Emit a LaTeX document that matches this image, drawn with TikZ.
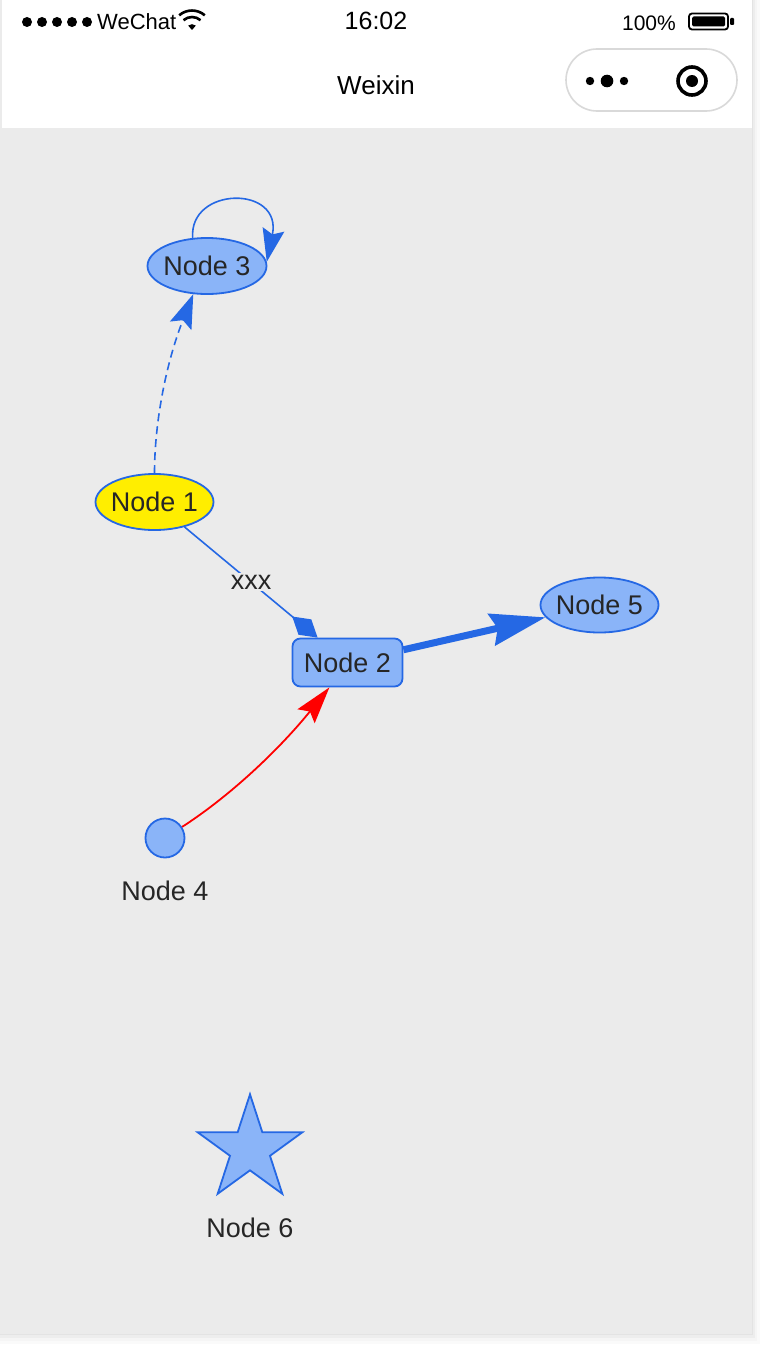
\documentclass[tikz,border=0pt]{standalone}
\usepackage{fontspec}
\setmainfont{Liberation Sans}
\usetikzlibrary{shapes.geometric,arrows.meta,calc}
\definecolor{canvas}{HTML}{EBEBEB}
\definecolor{nodefill}{RGB}{138,180,248}
\definecolor{edgeblue}{RGB}{37,104,228}
\definecolor{nodeyellow}{RGB}{255,238,0}
\definecolor{txt}{HTML}{262626}
\definecolor{capsuleline}{HTML}{D9D9D9}
\definecolor{edgered}{RGB}{255,0,0}
\begin{document}
\begin{tikzpicture}[x=1pt,y=-1pt,
  gnode/.style={draw=edgeblue, fill=nodefill, line width=1.8pt, inner sep=0pt,
    text=txt, font=\fontsize{27}{32}\selectfont},
  glabel/.style={text=txt, inner sep=0pt, font=\fontsize{27}{32}\selectfont},
  bluelink/.style={draw=edgeblue, line width=1.6pt},
  bar/.style={text=black, inner sep=0pt}]
\useasboundingbox (0,0) rectangle (762,1346);
% page, shadow and frame
\fill[white] (0,0) rectangle (762,1346);
\fill[black!2] (0,0) rectangle (760,1344);
\fill[black!4] (0,0) rectangle (757,1341);
\fill[black!7] (0,0) rectangle (755,1338);
\fill[black!11] (0,0) rectangle (753,1335);
\fill[black!8] (0,0) rectangle (2,1334);
\fill[white] (2,0) rectangle (752,128);
\fill[canvas] (2,128) rectangle (752,1334);
% status bar
\foreach \i in {0,...,4} \fill[black] (27+15*\i,22) circle (5);
\node[bar, anchor=west, font=\fontsize{22}{26}\selectfont] (carrier) at (97,22) {WeChat};
\fill[black] (192,30) -- (188.2,25.6) arc (229:311:5.8) -- cycle;
\draw[black, line width=2.6pt] (183.5,20.2) arc (229:311:13);
\draw[black, line width=2.6pt] (179.2,15.3) arc (229:311:19.5);
\node[bar, font=\fontsize{25}{29}\selectfont] (clock) at (376,21) {16:02};
\node[bar, anchor=east, font=\fontsize{21}{25}\selectfont] (level) at (676,23) {100\%};
\draw[black, line width=1.8pt, rounded corners=3pt] (689,13.5) rectangle (728,29.5);
\fill[black, rounded corners=1.5pt] (692,16.5) rectangle (725,26.5);
\fill[black, rounded corners=1pt] (730,18) rectangle (734,25);
% navigation bar
\node[bar, font=\fontsize{26}{30}\selectfont] (title) at (376,85) {Weixin};
\draw[capsuleline, fill=white, line width=1.6pt, rounded corners=31pt] (566,49) rectangle (737,111);
\fill[black] (590,81) circle (4.2);
\fill[black] (607,81) circle (6.3);
\fill[black] (624,81) circle (4.2);
\draw[black, line width=3.6pt] (692,81) circle (14);
\fill[black] (692,81) circle (6);
% graph nodes
\node[gnode, ellipse, minimum width=119pt, minimum height=56pt] (n3) at (207,266) {\makebox[0pt]{Node 3}};
\node[gnode, ellipse, fill=nodeyellow, minimum width=118pt, minimum height=56pt] (n1) at (154.5,502) {\makebox[0pt]{Node 1}};
\node[gnode, rectangle, rounded corners=8pt, minimum width=110pt, minimum height=48pt] (n2) at (347.5,662.5) {Node 2};
\node[gnode, ellipse, minimum width=118pt, minimum height=55pt] (n5) at (599.5,605) {\makebox[0pt]{Node 5}};
\node[gnode, circle, minimum size=39pt] (n4) at (165,838) {};
\node[glabel] (n4lab) at (165,891) {Node 4};
\node[gnode, star, star points=5, star point ratio=2.618, minimum size=110pt] (n6) at (250,1149.3) {};
\node[glabel] (n6lab) at (250,1228) {Node 6};
% connectors
\draw[bluelink, dash pattern=on 8pt off 5pt, -{Stealth[length=34pt,width=23pt,inset=6pt]}]
  (n1.north) .. controls +(0,-53.7) and +(-26,65.3) .. (n3.244);
\draw[bluelink, -{Stealth[length=33pt,width=22pt,inset=5pt]}]
  (n3.117) .. controls +(-4,-51.8) and +(16,-77) .. (n3.4);
\draw[bluelink, -{Diamond[length=33pt,width=20pt]}] (n1) -- (n2)
  node[pos=0.5, glabel, fill=canvas, inner sep=2pt] (lbl) {xxx};
\draw[draw=edgeblue, line width=7pt, -{Stealth[length=55pt,width=32pt,inset=6pt]}] (n2) -- (n5);
\draw[draw=edgered, line width=1.8pt, -{Stealth[length=37pt,width=22pt,inset=6pt]}]
  (n4.33) .. controls +(48.5,-31.3) and +(-50.2,62) .. (n2.234.5);
\end{tikzpicture}
\end{document}
